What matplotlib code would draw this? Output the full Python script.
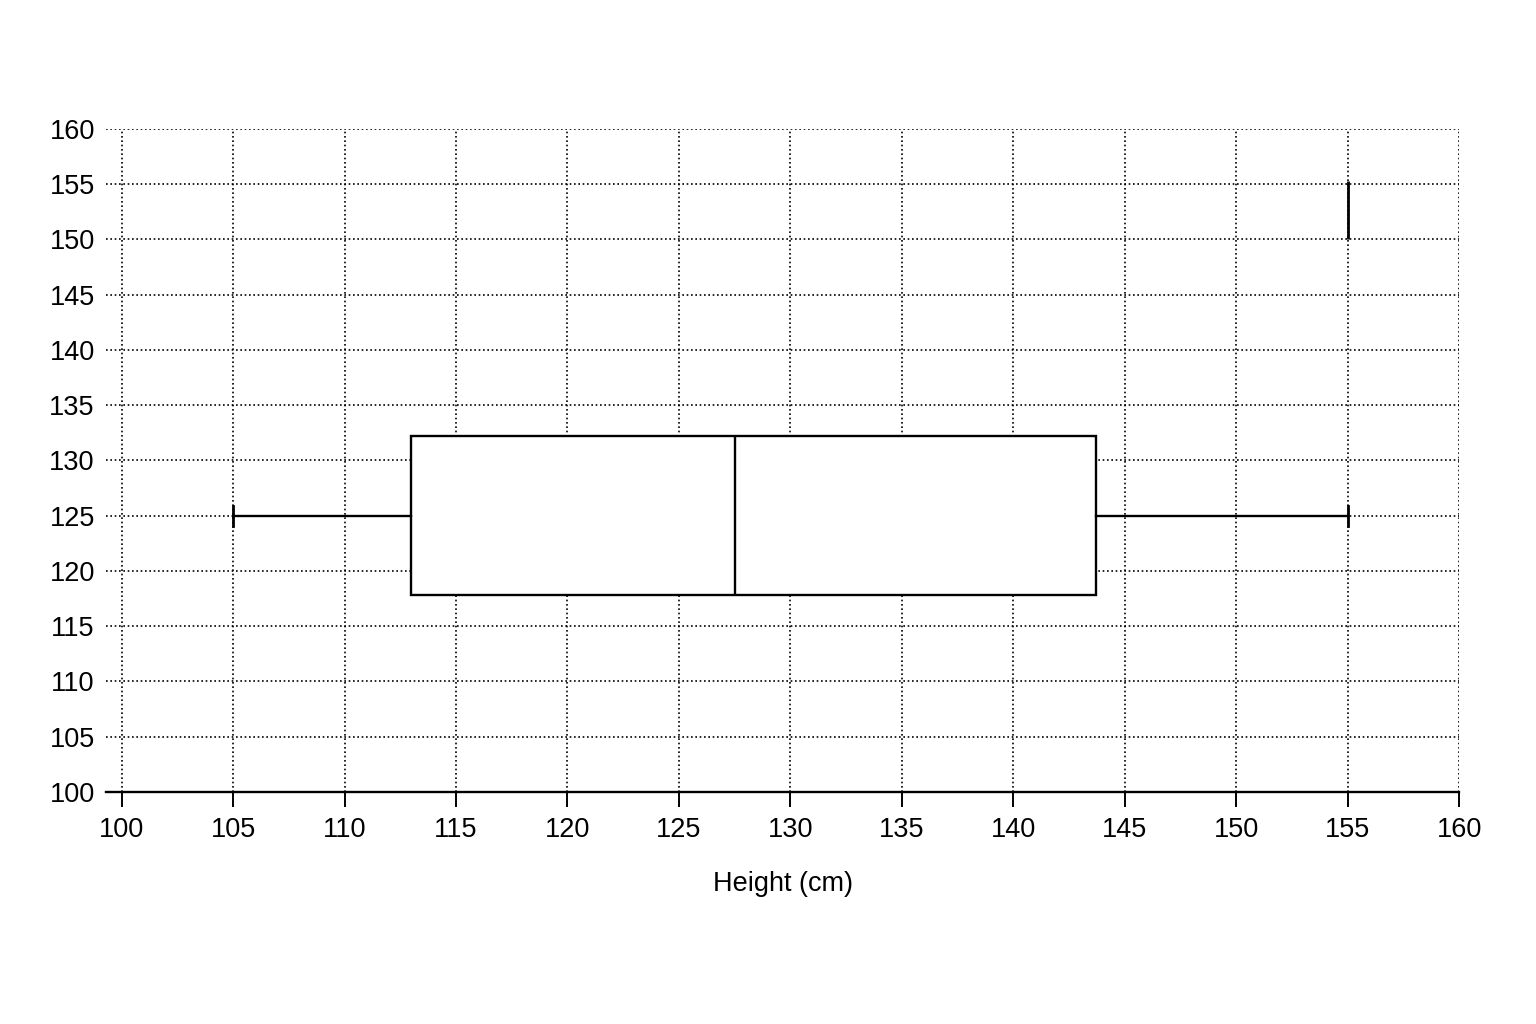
import matplotlib.pyplot as plt

plt.rcParams['font.family'] = ['Liberation Sans', 'DejaVu Sans']

# five-number summary of heights (cm)
h_min = 105
h_q1 = 113
h_median = 127.5
h_q3 = 143.7
h_max = 155

box_pos = 125
box_height = 14.4
cap_size = 1.8

# stray mark near the top right
mark_x = 155
mark_span = [150, 155.3]

ticks = list(range(100, 161, 5))

fig = plt.figure(figsize=(15.36, 10.24), dpi=100)
ax = fig.add_axes([0.069, 0.2266, 0.881, 0.6475])

stats = [dict(med=h_median, q1=h_q1, q3=h_q3, whislo=h_min, whishi=h_max, fliers=[])]
ax.bxp(stats, positions=[box_pos], widths=box_height, vert=False,
       capwidths=cap_size, patch_artist=True, showfliers=False,
       boxprops=dict(facecolor='white', edgecolor='black', linewidth=1.7),
       medianprops=dict(color='black', linewidth=1.7),
       whiskerprops=dict(color='black', linewidth=1.7),
       capprops=dict(color='black', linewidth=2.0), zorder=3)
ax.vlines(mark_x, mark_span[0], mark_span[1], color='black', linewidth=2.0, zorder=3)

ax.set_xlim(99.3, 160)
ax.set_ylim(100, 160)
ax.set_xticks(ticks)
ax.set_yticks(ticks)
ax.set_yticklabels([str(t) for t in ticks])
ax.grid(True, linestyle=(0, (1, 1.6)), color='black', linewidth=1.2, zorder=0)
ax.set_axisbelow(True)

for s in ['top', 'right', 'left']:
    ax.spines[s].set_visible(False)
ax.spines['bottom'].set_linewidth(1.7)
ax.tick_params(axis='x', direction='out', length=11, width=1.4, labelsize=19.5, pad=7)
ax.tick_params(axis='y', length=0, labelsize=19.5, pad=8)
ax.set_xlabel('Height (cm)', fontsize=19.5, labelpad=20)

fig.savefig('out.png', dpi=100)
